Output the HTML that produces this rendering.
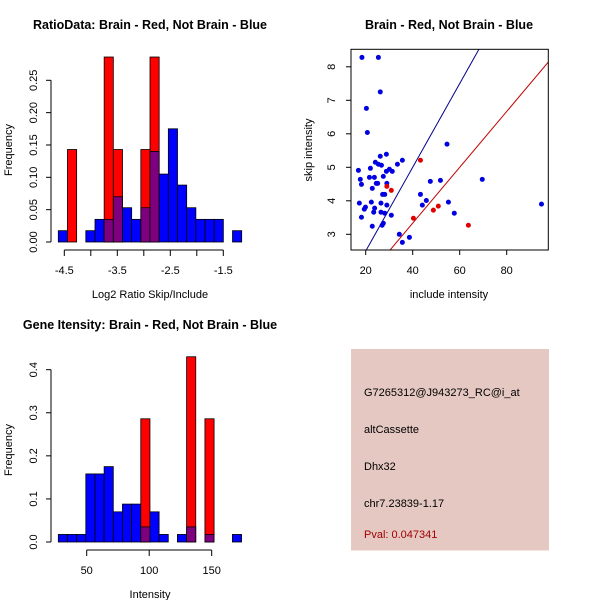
<!DOCTYPE html>
<html><head><meta charset="utf-8"><style>
body{margin:0;background:#fff}
svg{display:block;font-family:"Liberation Sans",sans-serif}
</style></head><body>
<svg id="c" width="600" height="600" viewBox="0 0 600 600"></svg>
<script>
// ---- Panel 1: ratio histogram ----
const ratioBinStart = -4.613;
const ratioBinWidth = 0.173;
const ratioBlue = [0.0175,0,0,0.0175,0.035,0.035,0.07,0.053,0.035,0.053,0.14,0.105,0.175,0.088,0.053,0.035,0.035,0.035,0,0.0175];
const ratioRed  = [0,0.143,0,0,0,0.286,0.143,0,0,0.143,0.286,0,0,0,0,0,0,0,0,0];
const ratioXTicks = [-4.5,-4.0,-3.5,-3.0,-2.5,-2.0,-1.5];
const ratioXLabels = ["-4.5","","-3.5","","-2.5","","-1.5"];
const ratioYTicks = [0,0.05,0.10,0.15,0.20,0.25];
const ratioYLabels = ["0.00","0.05","0.10","0.15","0.20","0.25"];
// ---- Panel 2: scatter ----
const blueInclude = [18.4,25.4,26.2,20.3,20.7,54.6,16.9,17.7,18.2,22.0,21.6,23.7,22.8,24.1,25.4,26.2,26.7,28.8,24.5,25.1,27.5,28.8,30.1,31.3,29.0,33.5,35.6,27.2,28.1,17.3,22.4,19.9,19.4,23.8,23.4,26.5,26.5,29.0,28.1,30.9,18.2,22.8,27.0,27.5,34.3,35.6,38.6,43.3,44.1,45.8,47.5,51.8,55.2,57.7,69.6,94.8];
const blueSkip = [8.28,8.28,7.25,6.76,6.04,5.69,4.91,4.64,4.49,4.97,4.70,4.70,4.37,5.15,5.09,5.33,5.06,5.39,4.52,4.52,4.73,4.88,4.94,4.88,4.52,5.09,5.21,4.19,4.19,3.93,3.96,3.81,3.75,3.78,3.66,3.93,3.66,3.87,3.63,3.57,3.51,3.24,3.27,3.33,3.00,2.76,2.91,4.19,3.87,4.01,4.58,4.61,3.96,3.63,4.64,3.90];
const redInclude = [43.3,29.0,30.9,40.3,48.8,50.9,63.7];
const redSkip = [5.21,4.43,4.31,3.48,3.72,3.84,3.27];
const blueSlope = 1/8;
const redSlope = 1/12;
const scatXTicks = [20,40,60,80];
const scatYTicks = [3,4,5,6,7,8];
// ---- Panel 3: intensity histogram ----
const intBinStart = 27.3;
const intBinWidth = 7.33;
const intBlue = [0.0175,0.0175,0.0175,0.158,0.158,0.175,0.07,0.088,0.088,0.035,0.07,0.0175,0,0.0175,0.035,0,0.0175,0,0,0.0175];
const intRed  = [0,0,0,0,0,0,0,0,0,0.286,0,0,0,0,0.43,0,0.286,0,0,0];
const intXTicks = [50,100,150];
const intYTicks = [0,0.1,0.2,0.3,0.4];
const intYLabels = ["0.0","0.1","0.2","0.3","0.4"];

const svg = document.getElementById('c');
const NS = 'http://www.w3.org/2000/svg';
function el(tag, attrs, parent){const e=document.createElementNS(NS,tag);for(const k in attrs)e.setAttribute(k,attrs[k]);(parent||svg).appendChild(e);return e;}
function txt(s,x,y,opt){const t=el('text',Object.assign({x:x,y:y,'font-size':11,'text-anchor':'middle',fill:'#000'},opt||{}));t.textContent=s;return t;}

function histogram(g, sx, sy, start, w, blue, red, prefix){
  for(let i=0;i<blue.length;i++){
    const x0=sx(start+i*w), x1=sx(start+(i+1)*w);
    const b=blue[i], r=red[i];
    if(r>0){const e=el('rect',{x:x0,y:sy(r),width:x1-x0,height:sy(0)-sy(r),fill:'#ff0000',stroke:'#000','stroke-width':0.8},g);
      
      }
    if(b>0){const fill=r>0?'#7f007f':'#0000ff';const e=el('rect',{x:x0,y:sy(b),width:x1-x0,height:sy(0)-sy(b),fill:fill,stroke:'#000','stroke-width':0.8},g);
      
      }
  }
}
function yAxis(g, sy, x, ticks, labels, lx){
  el('line',{x1:x,x2:x,y1:sy(ticks[0]),y2:sy(ticks[ticks.length-1]),stroke:'#000'},g);
  ticks.forEach((v,i)=>{el('line',{x1:x-5,x2:x,y1:sy(v),y2:sy(v),stroke:'#000'},g);
    const t=txt(labels[i],lx,sy(v),{transform:`rotate(-90 ${lx} ${sy(v)})`},);g.appendChild(t);});
}
function xAxis(g, sx, y, ticks, labels, ly){
  el('line',{x1:sx(ticks[0]),x2:sx(ticks[ticks.length-1]),y1:y,y2:y,stroke:'#000'},g);
  ticks.forEach((v,i)=>{el('line',{x1:sx(v),x2:sx(v),y1:y,y2:y+6,stroke:'#000'},g);
    if(labels[i]){const t=txt(labels[i],sx(v),ly);g.appendChild(t);}});
}

// Panel 1
{
  const g=el('g',{});
  const sx=v=>64.3+(v+4.5)*53;
  const sy=v=>242-v*646.8;
  histogram(g,sx,sy,ratioBinStart,ratioBinWidth,ratioBlue,ratioRed,'ratio');
  const ya=el('g',{},g);
  yAxis(ya,sy,51,ratioYTicks,ratioYLabels,37);
  const xa=el('g',{},g);
  xAxis(xa,sx,250,ratioXTicks,ratioXLabels,274);
  const t=txt('RatioData: Brain - Red, Not Brain - Blue',150,29,{'font-weight':'bold','font-size':12.5});g.appendChild(t);
  
  const xt=txt('Log2 Ratio Skip/Include',150,298);g.appendChild(xt);
  
  const yt=txt('Frequency',12,150,{transform:'rotate(-90 12 150)'});g.appendChild(yt);
  
}
// Panel 2
{
  const g=el('g',{});
  const sx=v=>365.7+(v-20)*2.35;
  const sy=v=>234.3-(v-3)*33.5;
  const L=351,R=548.3,T=49.3,B=250;
  el('defs',{},g).innerHTML='<clipPath id="cp"><rect x="351" y="49.3" width="197.3" height="200.7"/></clipPath>';
  const lines=el('g',{'clip-path':'url(#cp)'},g);
  const xmin=(L-365.7)/2.35+20, xmax=(R-365.7)/2.35+20;
  const bl=el('line',{x1:sx(xmin),y1:sy(xmin*blueSlope),x2:sx(xmax),y2:sy(xmax*blueSlope),stroke:'#00008b'},lines);
  
  const rl=el('line',{x1:sx(xmin),y1:sy(xmin*redSlope),x2:sx(xmax),y2:sy(xmax*redSlope),stroke:'#c00000'},lines);
  
  blueInclude.forEach((v,i)=>{const c=el('circle',{cx:sx(v),cy:sy(blueSkip[i]),r:2.5,fill:'#0000e0'},g);
    });
  redInclude.forEach((v,i)=>{const c=el('circle',{cx:sx(v),cy:sy(redSkip[i]),r:2.5,fill:'#e00000'},g);
    });
  const box=el('rect',{x:L,y:T,width:R-L,height:B-T,fill:'none',stroke:'#000'},g);
  
  const xa=el('g',{},g);
  scatXTicks.forEach(v=>{el('line',{x1:sx(v),x2:sx(v),y1:B,y2:B+5,stroke:'#000'},xa);xa.appendChild(txt(String(v),sx(v),274));});
  const ya=el('g',{},g);
  scatYTicks.forEach(v=>{el('line',{x1:L-5,x2:L,y1:sy(v),y2:sy(v),stroke:'#000'},ya);ya.appendChild(txt(String(v),335,sy(v),{transform:`rotate(-90 335 ${sy(v)})`}));});
  const t=txt('Brain - Red, Not Brain - Blue',449,29,{'font-weight':'bold','font-size':12.5});g.appendChild(t);
  
  const xt=txt('include intensity',449,298);g.appendChild(xt);
  
  const yt=txt('skip intensity',312,150,{transform:'rotate(-90 312 150)'});g.appendChild(yt);
  
}
// Panel 3
{
  const g=el('g',{});
  const sx=v=>86.7+(v-50)*1.25;
  const sy=v=>542-v*430.8;
  histogram(g,sx,sy,intBinStart,intBinWidth,intBlue,intRed,'intensity');
  const ya=el('g',{},g);
  yAxis(ya,sy,51,intYTicks,intYLabels,37);
  const xa=el('g',{},g);
  xAxis(xa,sx,550,intXTicks,intXTicks.map(String),574);
  const t=txt('Gene Itensity: Brain - Red, Not Brain - Blue',150,329,{'font-weight':'bold','font-size':12.5});g.appendChild(t);
  
  const xt=txt('Intensity',150,598);g.appendChild(xt);
  
  const yt=txt('Frequency',12,450,{transform:'rotate(-90 12 450)'});g.appendChild(yt);
  
}
</script>
<svg style="position:absolute;left:0;top:0" width="600" height="600">
  <g font-family="Liberation Sans, sans-serif" font-size="11">
    <rect x="351" y="349" width="198" height="201.5" fill="#e6c8c2"/>
    <text x="364" y="396" fill="#000">G7265312@J943273_RC@i_at</text>
    <text x="364" y="433" fill="#000">altCassette</text>
    <text x="364" y="470" fill="#000">Dhx32</text>
    <text x="364" y="507" fill="#000">chr7.23839-1.17</text>
    <text x="364" y="538" fill="#a00000">Pval: 0.047341</text>
  </g>
</svg>
</body></html>
